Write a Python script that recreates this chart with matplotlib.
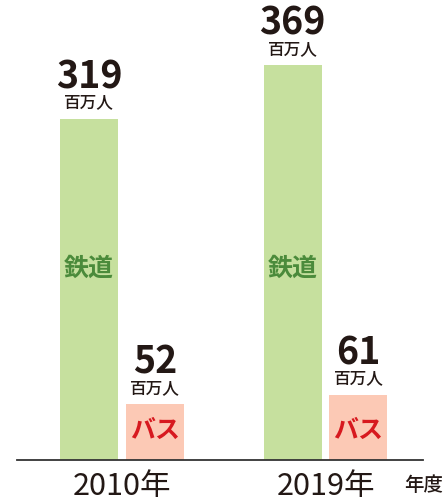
import matplotlib.pyplot as plt

plt.rcParams['font.family'] = ['Noto Sans CJK JP', 'DejaVu Sans']

years = ["2010年", "2019年"]
rail = [319, 369]
bus = [52, 61]
unit = "百万人"

rail_color = "#c6e09e"
bus_color = "#fcc9b5"

fig = plt.figure(figsize=(4.45, 5.02), dpi=100)
ax = fig.add_axes([17 / 445, 41 / 502, 406 / 445, 430 / 502])

x = [0, 1]
off = 0.162
w = 0.285
rail_x = [i - off for i in x]
bus_x = [i + off for i in x]

ax.bar(rail_x, rail, width=w, color=rail_color)
ax.bar(bus_x, bus, width=w, color=bus_color)

for xs, vals in [(rail_x, rail), (bus_x, bus)]:
    for xi, v in zip(xs, vals):
        ax.annotate(unit, (xi, v), xytext=(0, 12.5), textcoords="offset points",
                    ha="center", va="center", fontsize=12, fontweight="medium",
                    color="#231815")
        ax.annotate(str(v), (xi, v), xytext=(0, 31), textcoords="offset points",
                    ha="center", va="center", fontsize=27, fontweight="bold",
                    color="#231815")

# labels inside bars sit at a fixed height
for xi in rail_x:
    ax.text(xi, 180, "鉄道", ha="center", va="center", fontsize=18,
            fontweight="bold", color="#4b8b3b")
for xi in bus_x:
    ax.text(xi, 28, "バス", ha="center", va="center", fontsize=18,
            fontweight="bold", color="#d7191f")

ax.set_xlim(-0.516, 1.479)
ax.set_ylim(0, 402)
for s in ["top", "right", "left"]:
    ax.spines[s].set_visible(False)
ax.spines["bottom"].set_color("#333333")
ax.spines["bottom"].set_linewidth(1.3)
ax.set_yticks([])
ax.set_xticks(x)
ax.set_xticklabels(years, fontsize=22, color="#231815")
ax.tick_params(axis="x", length=0, pad=7)

fig.text(424 / 445, 1 - 486 / 502, "年度", ha="center", va="center",
         fontsize=14, fontweight="medium", color="#231815")

fig.savefig("out.png", dpi=100)
